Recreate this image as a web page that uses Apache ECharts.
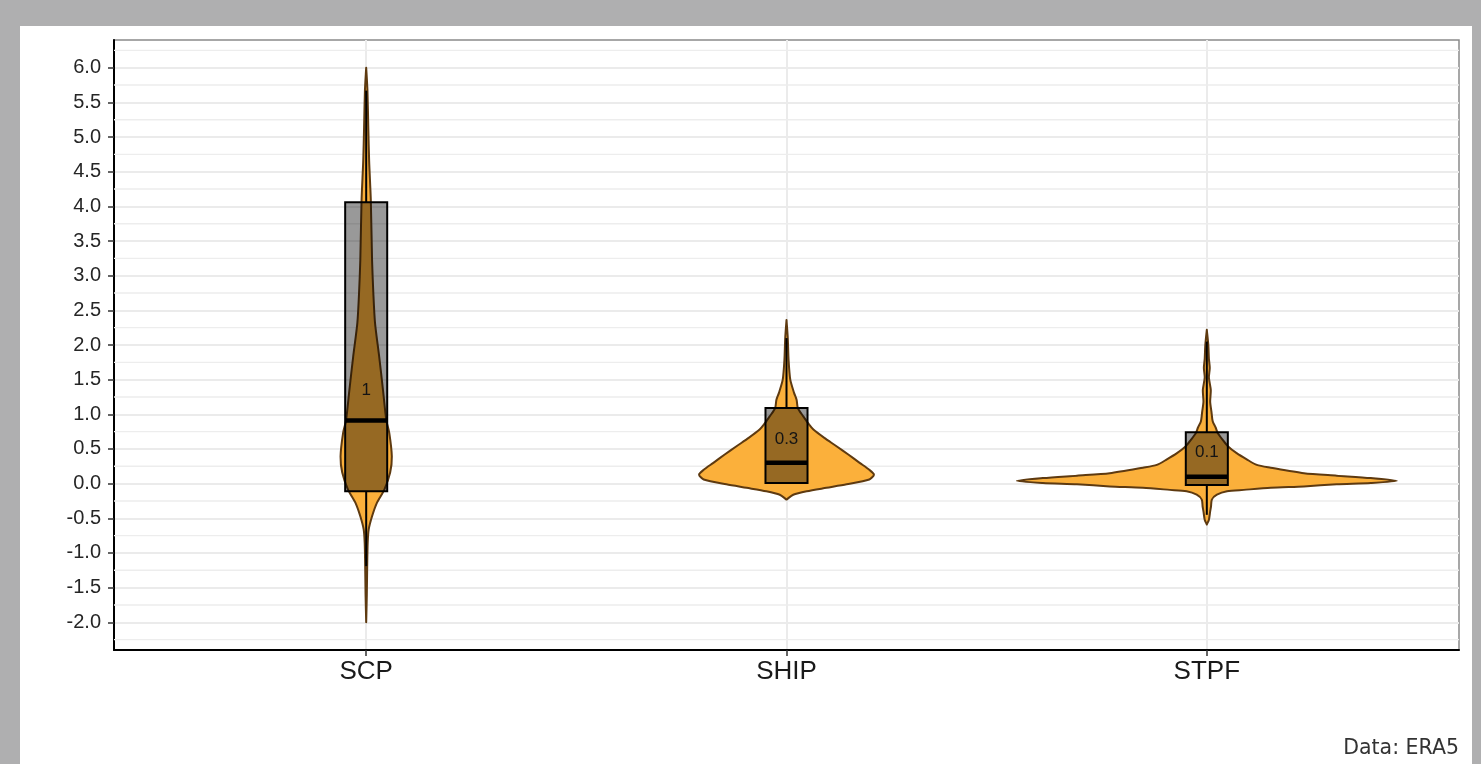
<!DOCTYPE html>
<html>
<head>
<meta charset="utf-8">
<script src="https://cdn.jsdelivr.net/npm/echarts@6/dist/echarts.min.js"></script>
<style>
  html, body { margin: 0; padding: 0; width: 1481px; height: 764px; overflow: hidden; background: #afafb0; }
  #card { position: absolute; left: 20px; top: 26px; width: 1452px; height: 738px; background: #ffffff; }
  #chart { position: absolute; left: 0; top: 0; width: 1481px; height: 764px; }
</style>
</head>
<body>
<div id="card"></div>
<div id="chart"></div>
<script>
// Categories on the x axis
const categories = ['SCP', 'SHIP', 'STPF'];

// Box plot statistics per category
const q1 = [-0.11, 0.01, -0.02];
const median = [0.91, 0.30, 0.10];
const q3 = [4.06, 1.09, 0.74];
const whiskerLow = [-1.19, 0.00, -0.45];
const whiskerHigh = [5.67, 2.10, 2.05];
const means = [1.0, 0.3, 0.1];

// Violin profiles: [value, half width in category units]
const violinSCP = [
  [6.00, 0], [5.67, 0.003], [5.14, 0.005], [4.66, 0.007], [4.09, 0.011],
  [3.22, 0.014], [2.75, 0.017], [2.32, 0.021], [1.83, 0.031], [1.35, 0.040],
  [0.91, 0.048], [0.73, 0.055], [0.39, 0.061], [0.16, 0.057], [-0.09, 0.043],
  [-0.27, 0.026], [-0.47, 0.014], [-0.66, 0.006], [-0.85, 0.0036],
  [-1.19, 0.0024], [-1.60, 0.0015], [-2.00, 0]
];
const violinSHIP = [
  [2.36, 0], [2.105, 0.003], [1.78, 0.005], [1.50, 0.009], [1.31, 0.018],
  [1.21, 0.024], [1.09, 0.027], [0.97, 0.040], [0.85, 0.054], [0.78, 0.064],
  [0.66, 0.090], [0.54, 0.119], [0.42, 0.147], [0.30, 0.174], [0.20, 0.197],
  [0.13, 0.208], [0.06, 0.197], [-0.01, 0.143], [-0.06, 0.095],
  [-0.11, 0.048], [-0.16, 0.016], [-0.23, 0]
];
const violinSTPF = [
  [2.22, 0], [2.00, 0.0036], [1.80, 0.005], [1.67, 0.007], [1.53, 0.005],
  [1.35, 0.0095], [1.18, 0.008], [1.04, 0.011], [0.90, 0.014], [0.81, 0.021],
  [0.73, 0.026], [0.63, 0.038], [0.54, 0.050], [0.44, 0.071], [0.35, 0.095],
  [0.27, 0.119], [0.23, 0.152], [0.15, 0.231], [0.115, 0.309], [0.08, 0.390],
  [0.04, 0.452], [0.01, 0.390], [-0.01, 0.309], [-0.04, 0.231], [-0.06, 0.152],
  [-0.09, 0.088], [-0.11, 0.048], [-0.16, 0.024], [-0.23, 0.012],
  [-0.33, 0.010], [-0.40, 0.008], [-0.52, 0.005], [-0.59, 0]
];
const violins = [violinSCP, violinSHIP, violinSTPF];

// Axis breaks
const yTicks = [-2, -1.5, -1, -0.5, 0, 0.5, 1, 1.5, 2, 2.5, 3, 3.5, 4, 4.5, 5, 5.5, 6];
const yMinorBreaks = [-2.25, -1.75, -1.25, -0.75, -0.25, 0.25, 0.75, 1.25, 1.75,
  2.25, 2.75, 3.25, 3.75, 4.25, 4.75, 5.25, 5.75, 6.25];
const xTicks = [1, 2, 3];

const X_MIN = 0.4;
const X_MAX = 3.6;
const BOX_HALF = 0.05;
const VIOLIN_FILL = '#fbb03b';
const VIOLIN_EDGE = '#5e3a10';

const chart = echarts.init(document.getElementById('chart'), null, { renderer: 'canvas' });

// Minor horizontal grid lines, drawn under the violins
function renderMinorGrid(params, api) {
  const v = api.value(0);
  const a = api.coord([X_MIN, v]);
  const b = api.coord([X_MAX, v]);
  return {
    type: 'line',
    shape: { x1: a[0], y1: a[1], x2: b[0], y2: b[1] },
    style: { stroke: '#ededed', lineWidth: 1.4 },
    silent: true
  };
}

function renderViolin(params, api) {
  const i = params.dataIndex;
  const x = api.value(0);
  const prof = violins[i];
  const pts = [];
  for (let k = 0; k < prof.length; k++) pts.push(api.coord([x - prof[k][1], prof[k][0]]));
  for (let k = prof.length - 1; k >= 0; k--) pts.push(api.coord([x + prof[k][1], prof[k][0]]));

  const tl = api.coord([x - BOX_HALF, q3[i]]);
  const br = api.coord([x + BOX_HALF, q1[i]]);
  const mL = api.coord([x - BOX_HALF, median[i]]);
  const mR = api.coord([x + BOX_HALF, median[i]]);
  const wTop = api.coord([x, whiskerHigh[i]]);
  const wQ3 = api.coord([x, q3[i]]);
  const wQ1 = api.coord([x, q1[i]]);
  const wLow = api.coord([x, whiskerLow[i]]);
  const mean = api.coord([x, means[i]]);

  return {
    type: 'group',
    children: [
      {
        type: 'polygon',
        shape: { points: pts, smooth: 0.25 },
        style: { fill: VIOLIN_FILL, stroke: VIOLIN_EDGE, lineWidth: 2, lineJoin: 'round' }
      },
      {
        type: 'rect',
        shape: { x: tl[0], y: tl[1], width: br[0] - tl[0], height: br[1] - tl[1] },
        style: { fill: 'rgba(0,0,0,0.4)', stroke: '#000', lineWidth: 2 }
      },
      {
        type: 'line',
        shape: { x1: wQ3[0], y1: wQ3[1], x2: wTop[0], y2: wTop[1] },
        style: { stroke: '#000', lineWidth: 2 }
      },
      {
        type: 'line',
        shape: { x1: wQ1[0], y1: wQ1[1], x2: wLow[0], y2: wLow[1] },
        style: { stroke: '#000', lineWidth: 2 }
      },
      {
        type: 'line',
        shape: { x1: mL[0], y1: mL[1], x2: mR[0], y2: mR[1] },
        style: { stroke: '#000', lineWidth: 4.5 }
      },
      {
        type: 'text',
        x: mean[0],
        y: mean[1] - 24,
        style: {
          text: String(means[i]),
          fill: '#141414',
          font: '17px "Liberation Sans", Arial, sans-serif',
          align: 'center',
          verticalAlign: 'middle'
        }
      }
    ]
  };
}

const option = {
  animation: false,
  grid: {
    left: 114, right: 22, top: 40, bottom: 114,
    show: true, borderColor: '#8a8a8a', borderWidth: 1.5, backgroundColor: 'transparent'
  },
  xAxis: {
    type: 'value',
    min: X_MIN,
    max: X_MAX,
    axisLine: { show: true, onZero: false, lineStyle: { color: '#000', width: 2 } },
    axisTick: { show: true, customValues: xTicks, length: 6, lineStyle: { color: '#333', width: 1.5 } },
    axisLabel: {
      customValues: xTicks,
      formatter: (v) => categories[Math.round(v) - 1],
      color: '#1a1a1a',
      fontSize: 26,
      fontFamily: '"Liberation Sans", Arial, sans-serif',
      margin: 9
    },
    splitLine: { show: true, lineStyle: { color: '#ebebeb', width: 2 } }
  },
  yAxis: {
    type: 'value',
    min: -2.4,
    max: 6.4,
    axisLine: { show: true, onZero: false, lineStyle: { color: '#000', width: 2 } },
    axisTick: { show: true, customValues: yTicks, length: 6, lineStyle: { color: '#333', width: 1.5 } },
    axisLabel: {
      customValues: yTicks,
      formatter: (v) => v.toFixed(1),
      color: '#262626',
      fontSize: 20,
      fontFamily: '"Liberation Sans", Arial, sans-serif',
      margin: 13
    },
    splitLine: { show: true, lineStyle: { color: '#ebebeb', width: 1.8 } }
  },
  series: [
    {
      type: 'custom',
      z: 1,
      silent: true,
      renderItem: renderMinorGrid,
      encode: { y: 0 },
      data: yMinorBreaks.map((v) => [v])
    },
    {
      type: 'custom',
      z: 3,
      renderItem: renderViolin,
      encode: { x: 0, y: 1 },
      data: categories.map((c, i) => [i + 1, median[i]])
    }
  ],
  graphic: [
    {
      type: 'text',
      right: 22,
      top: 738,
      style: {
        text: 'Data: ERA5',
        fill: '#333333',
        font: '20.5px "DejaVu Sans", sans-serif'
      }
    }
  ]
};

chart.setOption(option);
</script>
</body>
</html>
